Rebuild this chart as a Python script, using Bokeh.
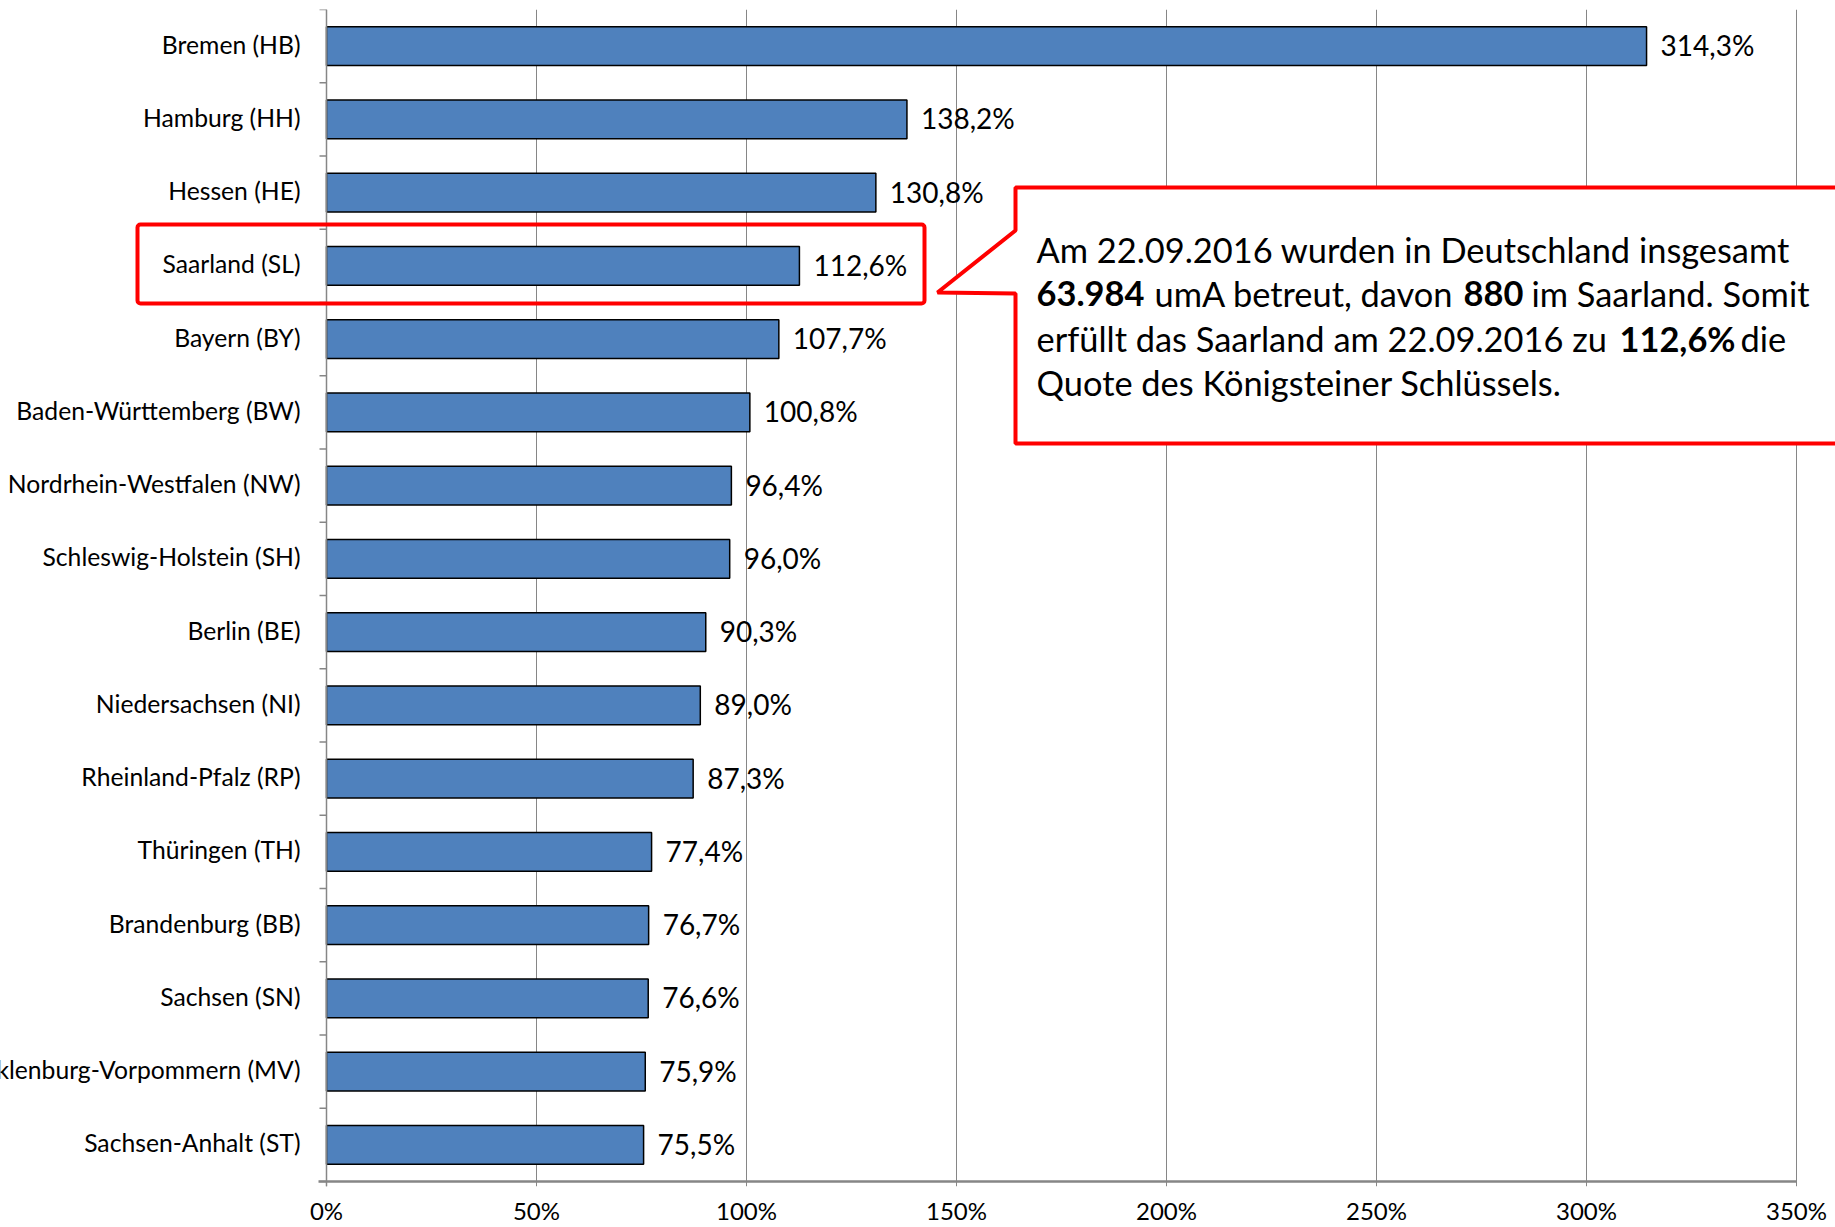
import math
from bokeh.plotting import figure
from bokeh.models import (Range1d, FixedTicker, ColumnDataSource, Span,
                          BoxAnnotation, PolyAnnotation, Label)
from bokeh.core.properties import value
from bokeh.embed import file_html
from bokeh.resources import INLINE

# ---------------- data ----------------
states = ["Bremen (HB)", "Hamburg (HH)", "Hessen (HE)", "Saarland (SL)", "Bayern (BY)",
          "Baden-Württemberg (BW)", "Nordrhein-Westfalen (NW)", "Schleswig-Holstein (SH)",
          "Berlin (BE)", "Niedersachsen (NI)", "Rheinland-Pfalz (RP)", "Thüringen (TH)",
          "Brandenburg (BB)", "Sachsen (SN)", "Mecklenburg-Vorpommern (MV)", "Sachsen-Anhalt (ST)"]
quota = [314.3, 138.2, 130.8, 112.6, 107.7, 100.8, 96.4, 96.0,
         90.3, 89.0, 87.3, 77.4, 76.7, 76.6, 75.9, 75.5]
x_ticks = [0, 50, 100, 150, 200, 250, 300, 350]
x_tick_labels = ["0%", "50%", "100%", "150%", "200%", "250%", "300%", "350%"]

callout_lines = [
    [("Am 22.09.2016 wurden in Deutschland insgesamt", "normal")],
    [("63.984", "bold"), ("umA betreut, davon", "normal"), ("880", "bold"), ("im Saarland. Somit", "normal")],
    [("erfüllt das Saarland am 22.09.2016 zu", "normal"), ("112,6%", "bold"), ("die", "normal")],
    [("Quote des Königsteiner Schlüssels.", "normal")],
]

# ---------------- layout helpers (pixel -> data) ----------------
W, H = 1835, 1227
FL, FR, FT, FB = 326, 1796, 9, 1181      # area of the bars: 0%..350%, top..baseline
FRAME_BOTTOM = 1186                       # grid lines run a little below the baseline
n = len(states)
XMAX = float(x_ticks[-1])
def X(px):
    return (px - FL) * XMAX / (FR - FL)
def Y(py):
    return -0.5 + (FB - py) * n / (FB - FT)

ypos = [n - 1 - i for i in range(n)]
value_labels = [f"{v:.1f}".replace(".", ",") + "%" for v in quota]
source = ColumnDataSource(dict(state=states, quota=quota, y=ypos, lab=value_labels,
                               zero=[0] * n))

p = figure(width=W, height=H, x_range=Range1d(X(0), X(W)),
           y_range=Range1d(Y(FRAME_BOTTOM), n - 0.5),
           output_backend="svg", toolbar_location=None, y_axis_location=None,
           min_border_left=0, min_border_right=0, min_border_top=FT,
           min_border_bottom=H - FRAME_BOTTOM)
p.outline_line_color = None
p.background_fill_color = "white"

FONT = "Lato"
GRAY = "#868686"

# grid
p.xgrid.ticker = FixedTicker(ticks=x_ticks)
p.xgrid.grid_line_color = GRAY
p.xgrid.grid_line_width = 1
p.ygrid.grid_line_color = None

# x axis (labels only; baseline drawn separately so that it stops at 350%)
p.xaxis.ticker = FixedTicker(ticks=x_ticks)
p.xaxis.major_label_overrides = dict(zip(x_ticks, x_tick_labels))
p.xaxis.axis_line_color = None
p.xaxis.major_tick_line_color = None
p.xaxis.major_tick_out = 0
p.xaxis.major_tick_in = 0
p.xaxis.minor_tick_line_color = None
p.xaxis.major_label_text_font = FONT
p.xaxis.major_label_text_font_size = "24px"
p.xaxis.major_label_text_color = "black"
p.xaxis.major_label_standoff = 9

# baseline of the value axis
p.segment(x0=[x_ticks[0]], x1=[x_ticks[-1]], y0=[-0.5], y1=[-0.5],
          line_color=GRAY, line_width=2.5)
p.ray(x=[x_ticks[0]], y=[-0.5], length=8, length_units="screen", angle=math.pi,
      line_color=GRAY, line_width=2.5)

# category axis line and boundary ticks
p.add_layout(Span(location=0, dimension="height", line_color=GRAY, line_width=1.5))
bounds = [k - 0.5 for k in range(n + 1)]
p.ray(x=[0] * len(bounds), y=bounds, length=7, length_units="screen", angle=math.pi,
      line_color=GRAY, line_width=1.5)

# bars
p.hbar(y="y", right="quota", left=0, height=0.53, source=source,
       fill_color="#4F81BD", line_color="black", line_width=1.5)

# value labels
p.text(x="quota", y="y", text="lab", source=source, x_offset=14, y_offset=-1,
       text_font=value(FONT), text_font_size="28px", text_baseline="middle",
       text_align="left", text_color="black")

# category labels
p.text(x="zero", y="y", text="state", source=source, x_offset=-26, y_offset=-2,
       text_align="right", text_baseline="middle",
       text_font=value(FONT), text_font_size="24.7px", text_color="black")

# highlight box around Saarland
p.add_layout(BoxAnnotation(left=X(137), right=X(924), top=Y(224), bottom=Y(303),
                           fill_alpha=0, line_color="#FF0000", line_alpha=1,
                           line_width=4, border_radius=3))

# callout
cx = [1015, 1860, 1860, 1015, 1015, 937, 1015]
cy = [187, 187, 443, 443, 293, 292, 230]
p.add_layout(PolyAnnotation(xs=[X(v) for v in cx], ys=[Y(v) for v in cy],
                            fill_color="white", fill_alpha=1,
                            line_color="#FF0000", line_alpha=1, line_width=4))

seg_x = [[1036], [1036, 1154, 1463, 1531], [1036, 1619, 1740], [1036]]
base_y = [249, 293, 338, 382]
for line, xs, by in zip(callout_lines, seg_x, base_y):
    for (txt, style), sx in zip(line, xs):
        p.add_layout(Label(x=X(sx), y=Y(by), text=txt, text_font=FONT,
                           text_font_size="34.4px", text_font_style=style,
                           text_baseline="alphabetic", text_align="left",
                           text_color="black"))

open("out.html", "w").write(file_html(p, INLINE))
